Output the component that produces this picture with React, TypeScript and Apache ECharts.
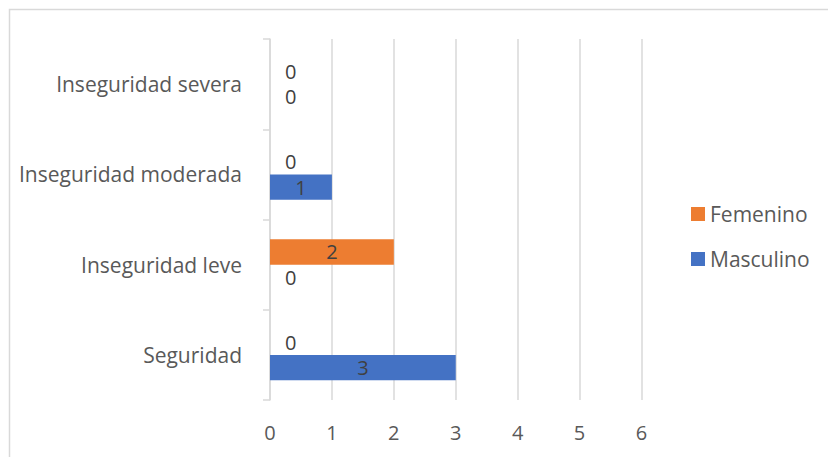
import React, { useEffect, useRef } from "react";
import * as echarts from "echarts";

const categories = ["Seguridad", "Inseguridad leve", "Inseguridad moderada", "Inseguridad severa"];
const masculino = [3, 0, 1, 0];
const femenino = [0, 2, 0, 0];
const xTicks = [0, 1, 2, 3, 4, 5, 6];

const FONT = "'Open Sans', 'Liberation Sans', sans-serif";
const TEXT = "#595959";
const LINE = "#d9d9d9";

// Zero-length bars get their label just past the axis; others centred inside.
const withLabels = (values: number[]) =>
  values.map((v) => ({
    value: v,
    label:
      v === 0
        ? { show: true, position: "right", distance: 15 }
        : { show: true, position: "inside" },
  }));

export default function App() {
  const ref = useRef<HTMLDivElement>(null);

  useEffect(() => {
    if (!ref.current) return;
    const chart = echarts.init(ref.current, null, { renderer: "svg" });
    const labelStyle = { color: "#404040", fontSize: 20, fontFamily: FONT };
    chart.setOption({
      animation: false,
      backgroundColor: "#ffffff",
      graphic: [
        {
          type: "rect",
          shape: { x: 9.5, y: 9.5, width: 900, height: 900 },
          style: { fill: "none", stroke: LINE, lineWidth: 1.5 },
          silent: true,
        },
      ],
      grid: { left: 270, right: 186.5, top: 39, bottom: 57, containLabel: false },
      legend: {
        orient: "vertical",
        left: 686,
        top: 198,
        itemWidth: 14,
        itemHeight: 14,
        itemGap: 23,
        icon: "rect",
        data: ["Femenino", "Masculino"],
        textStyle: { color: TEXT, fontSize: 21, fontFamily: FONT, lineHeight: 22 },
      },
      xAxis: {
        type: "value",
        min: xTicks[0],
        max: xTicks[xTicks.length - 1],
        interval: 1,
        axisLine: { show: false },
        axisTick: { show: false },
        splitLine: { show: true, lineStyle: { color: LINE, width: 1.5 } },
        axisLabel: { color: TEXT, fontSize: 20, fontFamily: FONT, margin: 22 },
      },
      yAxis: {
        type: "category",
        data: categories,
        axisLine: { show: true, lineStyle: { color: LINE, width: 1.5 } },
        axisTick: { show: true, length: 7, lineStyle: { color: LINE, width: 1.5 } },
        axisLabel: { color: TEXT, fontSize: 21, fontFamily: FONT, margin: 28 },
        splitLine: { show: false },
      },
      series: [
        {
          name: "Femenino",
          type: "bar",
          data: withLabels(femenino),
          itemStyle: { color: "#ED7D31" },
          label: labelStyle,
          barGap: "0%",
          barCategoryGap: "44%",
        },
        {
          name: "Masculino",
          type: "bar",
          data: withLabels(masculino),
          itemStyle: { color: "#4472C4" },
          label: labelStyle,
          barGap: "0%",
          barCategoryGap: "44%",
        },
      ],
    });
    return () => chart.dispose();
  }, []);

  return (
    <div
      ref={ref}
      style={{ position: "fixed", left: 0, top: 0, width: 828, height: 457, background: "#fff" }}
    />
  );
}
